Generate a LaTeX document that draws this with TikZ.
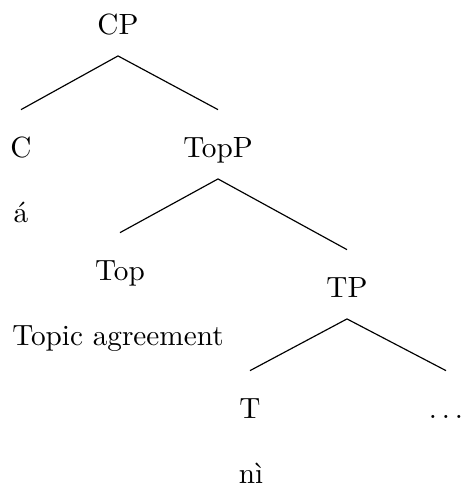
\documentclass[tikz,border=0pt]{standalone}
\usepackage{fontspec}
\begin{document}
\begin{tikzpicture}[x=0.342pt,y=-0.342pt,
    lbl/.style={anchor=base,inner sep=0pt,text height=6.8pt,text depth=0pt}]
          \useasboundingbox (0,0) rectangle (461,486);
          \node [lbl] (cp) at (118,34) {CP};
          \node [lbl] (c) at (21,157) {C};
          \node [lbl] (topp) at (218,157) {TopP};
          \node [lbl] (ca) at (21,222) {á};
          \node [lbl] (top) at (120,280) {Top};
          \node [lbl] (tp) at (347,297) {TP};
          \node [lbl] (topagr) at (118,345) {Topic agreement};
          \node [lbl] (t) at (250,418) {T};
          \node [lbl] (rest) at (446,418) {$\ldots$};
          \node [lbl] (ni) at (251,483) {nì};
          \draw ([yshift=-7.3pt]cp.south) to ([yshift=9.2pt]c.north);
          \draw ([yshift=-7.3pt]cp.south) to ([yshift=9.2pt]topp.north);
          \draw ([yshift=-7.3pt]topp.south) to ([yshift=9.2pt]top.north);
          \draw ([yshift=-7.3pt]topp.south) to ([yshift=9.2pt]tp.north);
          \draw ([yshift=-7.3pt]tp.south) to ([yshift=9.2pt]t.north);
          \draw ([yshift=-7.3pt]tp.south) to ([yshift=9.2pt]rest.north);
        \end{tikzpicture}
\end{document}
